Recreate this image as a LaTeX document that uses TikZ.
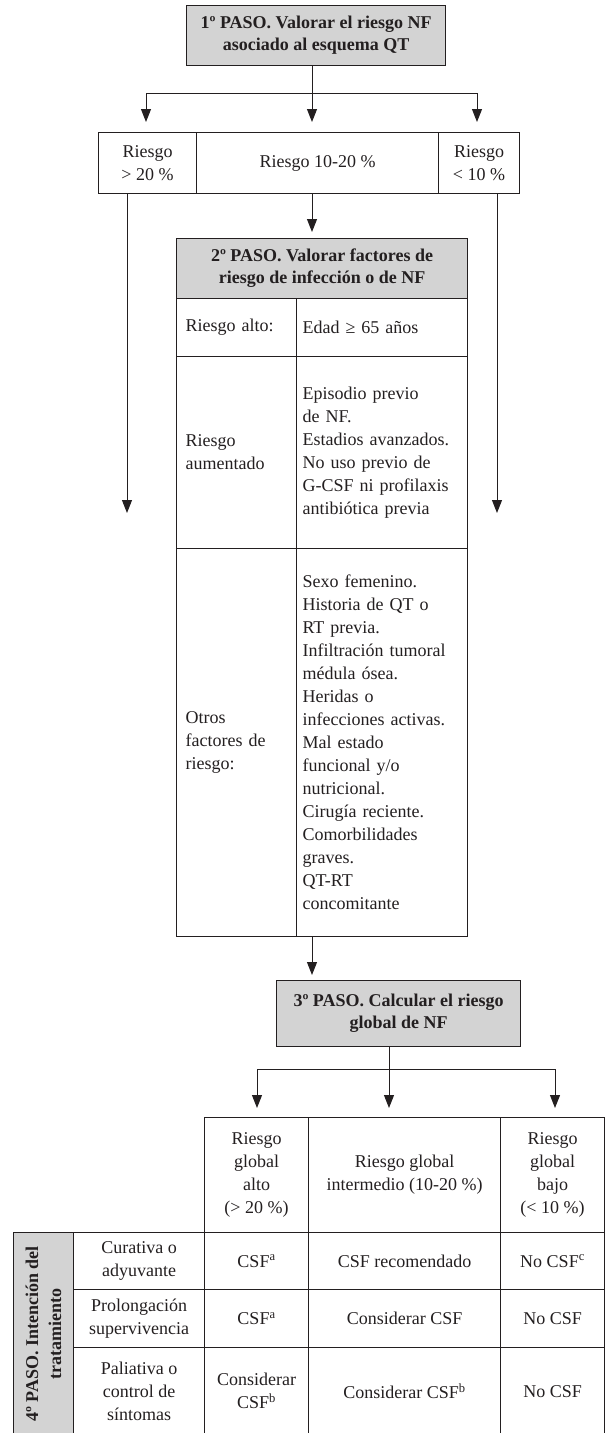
\documentclass[tikz,border=0pt]{standalone}
\usepackage{fontspec}
\setmainfont{Liberation Serif}
\usetikzlibrary{arrows.meta}
\definecolor{boxgray}{HTML}{D3D3D3}
\definecolor{ink}{HTML}{231F20}
\begin{document}
\begin{tikzpicture}[x=1pt,y=-1pt,
  every node/.style={font=\fontsize{18}{23}\selectfont, text=ink},
  cell/.style={draw=ink, line width=1.1pt, rectangle, inner sep=0pt, anchor=north west, align=center},
  graycell/.style={cell, fill=boxgray, font=\fontsize{18}{22}\selectfont\bfseries},
  lcellL/.style={cell, align=left, inner xsep=9pt},
  lcellR/.style={cell, align=left, inner xsep=6pt},
  conn/.style={draw=ink, line width=1pt},
  arr/.style={conn, -{Triangle[width=10pt,length=13pt]}}
]
\useasboundingbox (0,0) rectangle (605,1433);

% ---------- Step 1
\node[graycell, minimum width=259pt, minimum height=60pt] (s1) at (186,5)
  {1º PASO. Valorar el riesgo NF\\asociado al esquema QT};

\node[cell, minimum width=98pt, minimum height=61pt] (rL) at (98,132) {Riesgo\\> 20 \%};
\node[cell, minimum width=242pt, minimum height=61pt] (rM) at (196,132) {Riesgo 10-20 \%};
\node[cell, minimum width=81pt, minimum height=61pt] (rR) at (438,132) {Riesgo\\< 10 \%};

\coordinate (j1) at (312,93);
\coordinate (j1L) at (146,93);
\coordinate (j1R) at (477,93);
\draw[conn] (s1.south -| j1) -- (j1);
\draw[conn] (j1L) -- (j1R);
\draw[arr, shorten >=10pt] (j1L) -- (j1L |- rL.north);
\draw[arr, shorten >=10pt] (j1) -- (j1 |- rM.north);
\draw[arr, shorten >=10pt] (j1R) -- (j1R |- rR.north);

% ---------- Step 2
\node[graycell, minimum width=291pt, minimum height=60pt] (s2) at (176,238)
  {2º PASO. Valorar factores de\\riesgo de infección o de NF};
\node[lcellL, text width=102pt, minimum width=120pt, minimum height=58pt] (a1) at (176,298) {Riesgo alto:};
\node[lcellR, text width=159pt, minimum width=171pt, minimum height=58pt] (b1) at (296,298) {Edad ≥ 65 años};
\node[lcellL, text width=102pt, minimum width=120pt, minimum height=192pt] (a2) at (176,356) {Riesgo\\aumentado};
\node[lcellR, text width=159pt, minimum width=171pt, minimum height=192pt] (b2) at (296,356)
  {Episodio previo\\de NF.\\Estadios avanzados.\\No uso previo de\\G-CSF ni profilaxis\\antibiótica previa};
\node[lcellL, text width=102pt, minimum width=120pt, minimum height=388pt] (a3) at (176,548) {Otros\\factores de\\riesgo:};
\node[lcellR, text width=159pt, minimum width=171pt, minimum height=388pt] (b3) at (296,548)
  {Sexo femenino.\\Historia de QT o\\RT previa.\\Infiltración tumoral\\médula ósea.\\Heridas o\\infecciones activas.\\Mal estado\\funcional y/o\\nutricional.\\Cirugía reciente.\\Comorbilidades\\graves.\\QT-RT\\concomitante};

\coordinate (eL) at (127,513);
\coordinate (eR) at (497,513);
\draw[arr] (rL.south -| eL) -- (eL);
\draw[arr] (rR.south -| eR) -- (eR);
\coordinate (m2) at (312,193);
\draw[arr, shorten >=6pt] (m2) -- (m2 |- s2.north);

% ---------- Step 3
\node[graycell, minimum width=244pt, minimum height=66pt] (s3) at (276,980)
  {3º PASO. Calcular el riesgo\\global de NF};
\coordinate (m3) at (312,936);
\draw[arr, shorten >=5pt] (m3) -- (m3 |- s3.north);

\node[cell, minimum width=104pt, minimum height=115pt] (h1) at (204,1117) {Riesgo\\global\\alto\\(> 20 \%)};
\node[cell, minimum width=192pt, minimum height=115pt] (h2) at (308,1117) {Riesgo global\\intermedio (10-20 \%)};
\node[cell, minimum width=104pt, minimum height=115pt] (h3) at (500,1117) {Riesgo\\global\\bajo\\(< 10 \%)};

\coordinate (j3) at (389,1069);
\coordinate (j3L) at (257,1069);
\coordinate (j3R) at (555,1069);
\draw[conn] (s3.south -| j3) -- (j3);
\draw[conn] (j3L) -- (j3R);
\draw[arr, shorten >=9pt] (j3L) -- (j3L |- h1.north);
\draw[arr, shorten >=9pt] (j3) -- (j3 |- h2.north);
\draw[arr, shorten >=9pt] (j3R) -- (j3R |- h3.north);

% ---------- Step 4 table
\node[cell, fill=boxgray, minimum width=60pt, minimum height=202.5pt] (g) at (13,1232) {};
\node[rotate=90, align=center, font=\fontsize{18}{23}\selectfont\bfseries] (gt) at (g.center)
  {4º PASO. Intención del\\tratamiento};

\node[cell, minimum width=131pt, minimum height=57pt] (c11) at (73,1232) {Curativa o\\adyuvante};
\node[cell, minimum width=104pt, minimum height=57pt] (c12) at (204,1232) {CSF\textsuperscript{a}};
\node[cell, minimum width=192pt, minimum height=57pt] (c13) at (308,1232) {CSF recomendado};
\node[cell, minimum width=104pt, minimum height=57pt] (c14) at (500,1232) {No CSF\textsuperscript{c}};

\node[cell, minimum width=131pt, minimum height=58pt] (c21) at (73,1289) {Prolongación\\supervivencia};
\node[cell, minimum width=104pt, minimum height=58pt] (c22) at (204,1289) {CSF\textsuperscript{a}};
\node[cell, minimum width=192pt, minimum height=58pt] (c23) at (308,1289) {Considerar CSF};
\node[cell, minimum width=104pt, minimum height=58pt] (c24) at (500,1289) {No CSF};

\node[cell, minimum width=131pt, minimum height=87.5pt] (c31) at (73,1347) {Paliativa o\\control de\\síntomas};
\node[cell, minimum width=104pt, minimum height=87.5pt] (c32) at (204,1347) {Considerar\\CSF\textsuperscript{b}};
\node[cell, minimum width=192pt, minimum height=87.5pt] (c33) at (308,1347) {Considerar CSF\textsuperscript{b}};
\node[cell, minimum width=104pt, minimum height=87.5pt] (c34) at (500,1347) {No CSF};
\end{tikzpicture}
\end{document}
